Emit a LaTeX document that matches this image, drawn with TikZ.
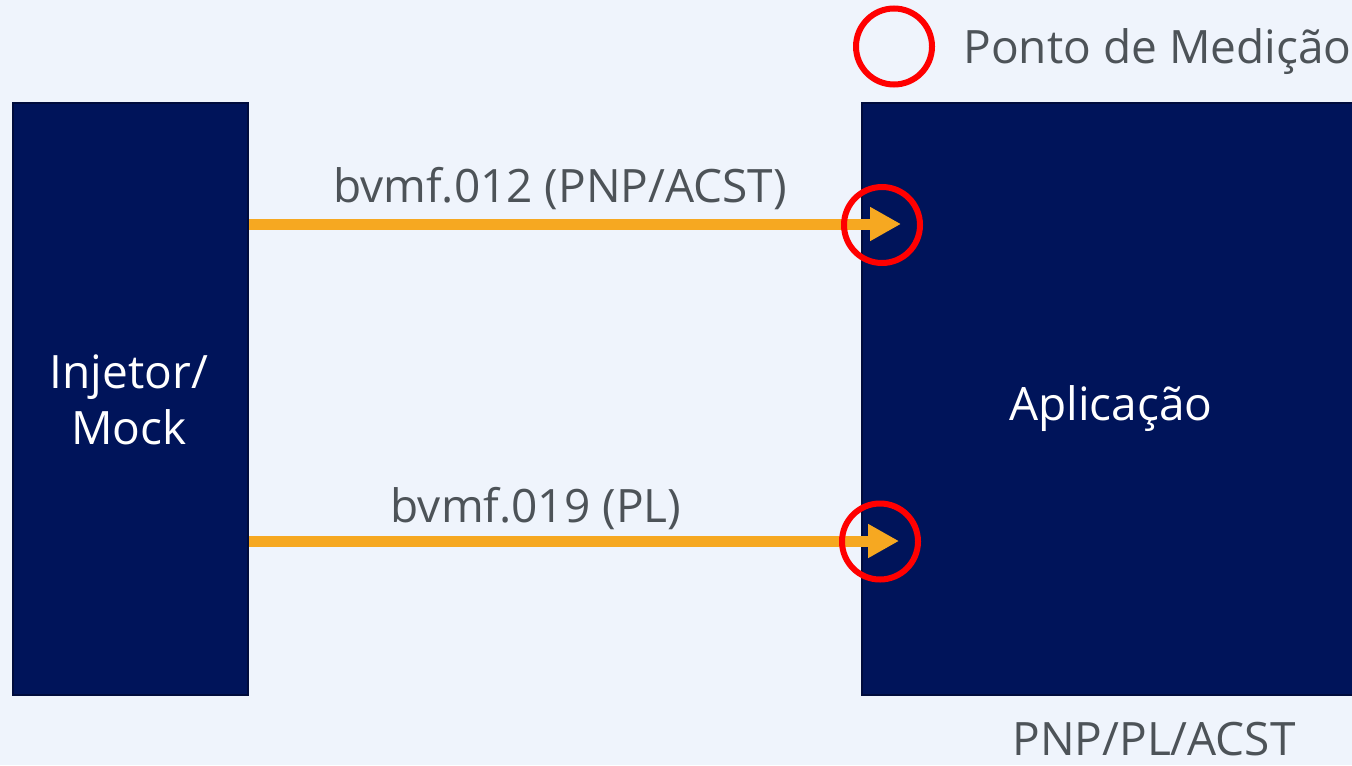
\documentclass[tikz,border=0pt]{standalone}
\usepackage{fontspec}
\setmainfont{Open Sans}
\usetikzlibrary{arrows.meta,positioning}
\definecolor{bgblue}{HTML}{EFF4FC}
\definecolor{boxblue}{HTML}{00145A}
\definecolor{boxedge}{HTML}{000C3C}
\definecolor{floworange}{HTML}{F6A821}
\definecolor{textgrey}{HTML}{4D5358}
\definecolor{measred}{HTML}{FF0000}

\begin{document}
\begin{tikzpicture}[x=0.5pt,y=-0.5pt]

\tikzset{bluebox/.style={fill=boxblue,draw=boxedge,line width=1pt,inner sep=0pt,text=white,font=\fontsize{23}{28}\selectfont,align=center},
greytext/.style={text=textgrey,font=\fontsize{23}{28}\selectfont,inner sep=0pt},
flowarrow/.style={draw=floworange,line width=5.5pt,-{Triangle[length=15.5pt,width=16pt]}},
measure/.style={circle,draw=measred,line width=3pt,minimum size=38pt,inner sep=0pt}}

% Background
\fill[bgblue] (0,0) rectangle (1352,765);
\useasboundingbox (0,0) rectangle (1352,765);

% Boxes
\node[bluebox,minimum width=117.5pt,minimum height=296pt] (inj) at (130.5,399) {};
\node[bluebox,minimum width=249pt,minimum height=296pt] (app) at (1111,399) {};
\node[text=white,font=\fontsize{23}{28}\selectfont,inner sep=0pt,anchor=base] (injtxt) at (129,388) {Injetor/};
\node[text=white,font=\fontsize{23}{28}\selectfont,inner sep=0pt,anchor=base] (mocktxt) at (129,444) {Mock};
\node[text=white,font=\fontsize{23}{28}\selectfont,inner sep=0pt,anchor=base] (apptxt) at (1111,420) {Aplicação};

% Legend
\node[measure] (legend) at (894,46.5) {};
\node[greytext,anchor=base west] (legendtxt) at (963,64) {Ponto de Medição};

% Flows
\coordinate (tip1) at (901,224);
\coordinate (tip2) at (899,541);
\draw[flowarrow] (inj.east |- tip1) -- (tip1);
\draw[flowarrow] (inj.east |- tip2) -- (tip2);
\node[greytext,anchor=base] (flow1) at (560,202) {bvmf.012 (PNP/ACST)};
\node[greytext,anchor=base] (flow2) at (536,522) {bvmf.019 (PL)};

% Measurement points
\node[measure] (m1) at (882,225) {};
\node[measure] (m2) at (880,541.5) {};

\node[greytext,anchor=base] (apptopics) at (1154,755) {PNP/PL/ACST};

\end{tikzpicture}
\end{document}
